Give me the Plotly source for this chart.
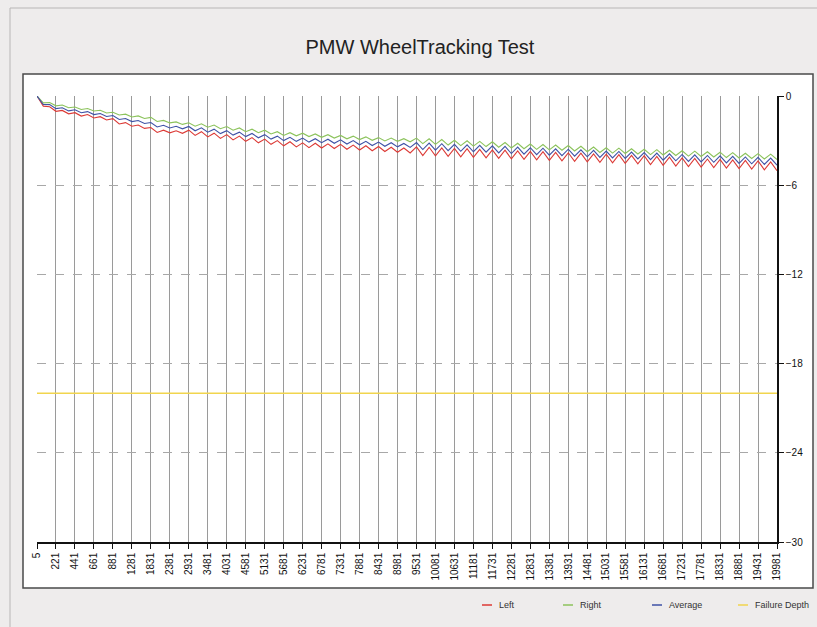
import plotly.graph_objects as go

# x tick labels (wheel passes) – one every 3 readings
TICK_LABELS = ["5", "221", "441", "661", "881", "1281", "1831", "2381", "2931", "3481",
               "4031", "4581", "5131", "5681", "6231", "6781", "7331", "7881", "8431", "8981",
               "9531", "10081", "10631", "11181", "11731", "12281", "12831", "13381", "13931", "14481",
               "15031", "15581", "16131", "16681", "17231", "17781", "18331", "18881", "19431", "19981"]
READINGS_PER_LABEL = 3

# rut depth (mm)
LEFT = [0, -0.68, -0.72, -1.03, -0.97, -1.20, -1.12, -1.35, -1.25, -1.48,
        -1.39, -1.61, -1.52, -1.88, -1.79, -2.03, -1.95, -2.18, -2.12, -2.45,
        -2.30, -2.48, -2.34, -2.51, -2.30, -2.65, -2.40, -2.75, -2.50, -2.85,
        -2.60, -2.95, -2.70, -3.05, -2.80, -3.15, -2.90, -3.25, -3.00, -3.35,
        -3.08, -3.42, -3.15, -3.47, -3.18, -3.50, -3.22, -3.53, -3.25, -3.58,
        -3.30, -3.63, -3.35, -3.68, -3.40, -3.73, -3.45, -3.78, -3.50, -3.83,
        -3.42, -4.00, -3.45, -4.03, -3.49, -4.06, -3.52, -4.10, -3.55, -4.13,
        -3.59, -4.16, -3.62, -4.20, -3.65, -4.23, -3.69, -4.26, -3.72, -4.30,
        -3.75, -4.33, -3.79, -4.36, -3.82, -4.40, -3.85, -4.43, -3.89, -4.46,
        -3.92, -4.50, -3.95, -4.53, -3.99, -4.56, -4.02, -4.61, -4.07, -4.66,
        -4.12, -4.71, -4.17, -4.75, -4.20, -4.78, -4.24, -4.81, -4.27, -4.85,
        -4.30, -4.88, -4.34, -4.91, -4.37, -4.96, -4.44, -5.03]
RIGHT = [0, -0.46, -0.44, -0.66, -0.61, -0.79, -0.74, -0.91, -0.84, -1.01,
         -0.96, -1.14, -1.09, -1.28, -1.22, -1.41, -1.34, -1.51, -1.44, -1.71,
         -1.64, -1.81, -1.74, -1.91, -1.80, -2.03, -1.87, -2.10, -1.95, -2.20,
         -2.05, -2.30, -2.15, -2.40, -2.23, -2.47, -2.30, -2.55, -2.40, -2.65,
         -2.47, -2.68, -2.50, -2.73, -2.55, -2.78, -2.60, -2.83, -2.65, -2.88,
         -2.70, -2.93, -2.75, -2.98, -2.80, -3.02, -2.83, -3.05, -2.87, -3.08,
         -2.83, -3.20, -2.88, -3.25, -2.93, -3.30, -2.98, -3.34, -3.01, -3.37,
         -3.05, -3.40, -3.08, -3.45, -3.13, -3.50, -3.18, -3.55, -3.23, -3.59,
         -3.26, -3.62, -3.30, -3.65, -3.33, -3.70, -3.38, -3.75, -3.43, -3.80,
         -3.48, -3.84, -3.51, -3.87, -3.55, -3.90, -3.58, -3.94, -3.61, -3.97,
         -3.65, -4.00, -3.68, -4.04, -3.71, -4.07, -3.75, -4.10, -3.78, -4.14,
         -3.81, -4.17, -3.85, -4.20, -3.88, -4.24, -3.91, -4.27]
AVERAGE = [0, -0.57, -0.58, -0.85, -0.79, -1.00, -0.93, -1.13, -1.05, -1.25,
           -1.18, -1.38, -1.31, -1.58, -1.51, -1.72, -1.65, -1.85, -1.78, -2.08,
           -1.97, -2.15, -2.04, -2.21, -2.05, -2.34, -2.14, -2.43, -2.23, -2.53,
           -2.33, -2.63, -2.43, -2.73, -2.52, -2.81, -2.60, -2.90, -2.70, -3.00,
           -2.78, -3.05, -2.83, -3.10, -2.87, -3.14, -2.91, -3.18, -2.95, -3.23,
           -3.00, -3.28, -3.05, -3.33, -3.10, -3.38, -3.14, -3.42, -3.19, -3.46,
           -3.13, -3.60, -3.17, -3.64, -3.21, -3.68, -3.25, -3.72, -3.28, -3.75,
           -3.32, -3.78, -3.35, -3.83, -3.39, -3.87, -3.44, -3.91, -3.48, -3.95,
           -3.51, -3.98, -3.55, -4.01, -3.58, -4.05, -3.62, -4.09, -3.66, -4.13,
           -3.70, -4.17, -3.73, -4.20, -3.77, -4.23, -3.80, -4.28, -3.84, -4.32,
           -3.89, -4.36, -3.93, -4.40, -3.96, -4.43, -4.00, -4.46, -4.03, -4.50,
           -4.06, -4.53, -4.10, -4.56, -4.13, -4.60, -4.18, -4.65]
FAILURE_DEPTH = -20

SERIES_NAMES = ["Left", "Right", "Average", "Failure Depth"]
COLORS = ["#dc3a36", "#8cc35c", "#3e52a6", "#f1d54e"]

W, H = 817, 627
M = dict(l=37, r=40, t=96, b=85)
FONT = "Arial, Liberation Sans, sans-serif"


def px_x(p):
    return (p - M["l"]) / (W - M["l"] - M["r"])


def px_y(p):
    return (H - M["b"] - p) / (H - M["t"] - M["b"])


n = len(LEFT)
x_idx = list(range(n))
last = n - 1

fig = go.Figure()
for name, ys, col in zip(SERIES_NAMES[:3], [LEFT, RIGHT, AVERAGE], COLORS[:3]):
    fig.add_trace(go.Scatter(x=x_idx, y=ys, name=name, mode="lines",
                             line=dict(color=col, width=1.1)))
fig.add_trace(go.Scatter(x=[0, last], y=[FAILURE_DEPTH, FAILURE_DEPTH],
                         name=SERIES_NAMES[3], mode="lines",
                         line=dict(color=COLORS[3], width=1.5)))

shapes = [
    # outer scanned frame
    dict(type="rect", xref="paper", yref="paper", layer="below",
         x0=px_x(10), x1=px_x(822), y0=px_y(8), y1=px_y(632),
         line=dict(color="#b8b6b6", width=1), fillcolor="rgba(0,0,0,0)"),
    # white chart box
    dict(type="rect", xref="paper", yref="paper", layer="below",
         x0=px_x(23), x1=px_x(813), y0=px_y(74), y1=px_y(588),
         line=dict(color="#4a4a4a", width=1.5), fillcolor="white"),
]
annotations = []

# manual legend
leg_pos = [482, 563, 652, 738]
for name, col, lx in zip(SERIES_NAMES, COLORS, leg_pos):
    shapes.append(dict(type="line", xref="paper", yref="paper",
                       x0=px_x(lx), x1=px_x(lx + 10), y0=px_y(605), y1=px_y(605),
                       line=dict(color=col, width=1.5)))
    annotations.append(dict(text=name, xref="paper", yref="paper",
                            x=px_x(lx + 15), y=px_y(605), xanchor="left", yanchor="middle",
                            showarrow=False, font=dict(family=FONT, size=9, color="#333333")))

fig.update_layout(
    width=W, height=H,
    margin=M,
    paper_bgcolor="#eeecec",
    plot_bgcolor="white",
    showlegend=False,
    title=dict(text="PMW WheelTracking Test", x=0.514, xanchor="center",
               y=1 - 47 / H, yanchor="middle",
               font=dict(family=FONT, size=20, color="#222222")),
    shapes=shapes,
    annotations=annotations,
    xaxis=dict(
        range=[0, last],
        tickvals=x_idx[::READINGS_PER_LABEL],
        ticktext=TICK_LABELS,
        tickangle=-90,
        tickfont=dict(family=FONT, size=10, color="#111111"),
        showgrid=True, gridcolor="#9a9a9a", gridwidth=1,
        showline=True, linecolor="#111111", linewidth=1.5,
        ticks="outside", ticklen=5, tickcolor="#111111",
        zeroline=False, automargin=False,
    ),
    yaxis=dict(
        range=[-30, 0],
        dtick=6,
        side="right",
        tickfont=dict(family=FONT, size=10, color="#111111"),
        showgrid=True, gridcolor="#a8a8a8", gridwidth=1, griddash="dash",
        showline=True, linecolor="#111111", linewidth=1.5,
        ticks="outside", ticklen=5, tickcolor="#111111",
        zeroline=False, automargin=False,
    ),
)

fig.write_html("out.html", config={"displayModeBar": False},
               post_script="document.body.style.margin='0';")
